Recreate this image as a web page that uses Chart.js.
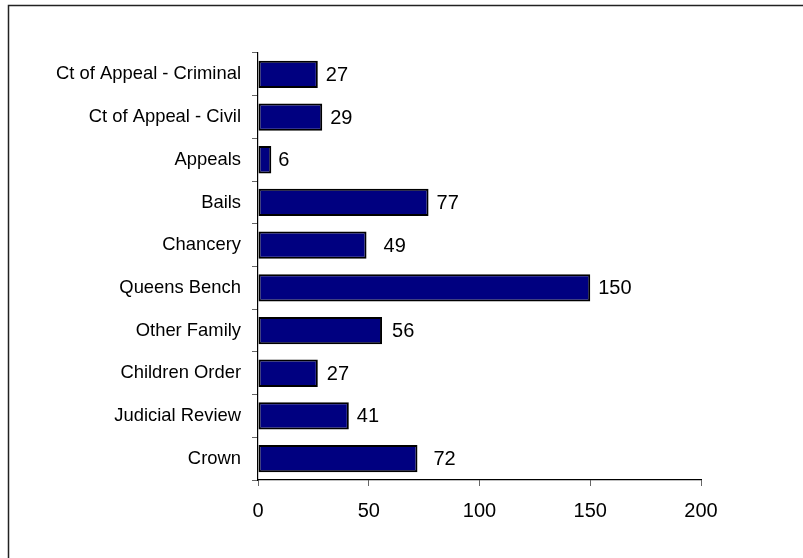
<!DOCTYPE html>
<html>
<head>
<meta charset="utf-8">
<script src="https://cdn.jsdelivr.net/npm/chart.js@4.4.1/dist/chart.umd.min.js"></script>
<style>
  html, body { margin: 0; padding: 0; background: #fff; }
  #wrap { position: relative; width: 803px; height: 558px; }
</style>
</head>
<body>
<div id="wrap"><canvas id="chart-courts"></canvas></div>
<script>
// categories, top to bottom
const courts = [
  'Ct of Appeal - Criminal', 'Ct of Appeal - Civil', 'Appeals', 'Bails', 'Chancery',
  'Queens Bench', 'Other Family', 'Children Order', 'Judicial Review', 'Crown'
];
const caseCounts = [27, 29, 6, 77, 49, 150, 56, 27, 41, 72];
const xTicks = [0, 50, 100, 150, 200];
// gap (px) between bar end and its value label, as placed in the original
const labelGap = [8, 8, 7, 8, 17, 8, 10, 9, 8, 16];

const FONT = "'Liberation Sans', Arial, sans-serif";

// outer frame: only top and left edges show in the picture
const framePlugin = {
  id: 'frame',
  afterDraw(chart) {
    const c = chart.ctx;
    c.save();
    c.strokeStyle = '#222';
    c.lineWidth = 1.5;
    c.beginPath();
    c.moveTo(8.5, 558);
    c.lineTo(8.5, 5.5);
    c.lineTo(803, 5.5);
    c.stroke();
    c.restore();
  }
};

// value labels to the right of each bar
const valueLabels = {
  id: 'valueLabels',
  afterDatasetsDraw(chart) {
    const c = chart.ctx;
    const meta = chart.getDatasetMeta(0);
    c.save();
    c.font = '20px ' + FONT;
    c.fillStyle = '#000';
    c.textAlign = 'left';
    c.textBaseline = 'middle';
    meta.data.forEach((bar, i) => {
      c.fillText(String(caseCounts[i]), bar.x + labelGap[i], bar.y + 1);
    });
    c.restore();
  }
};

const ctx = document.getElementById('chart-courts');
new Chart(ctx, {
  type: 'bar',
  data: {
    labels: courts,
    datasets: [{
      data: caseCounts,
      backgroundColor: '#000080',
      borderColor: '#000',
      borderWidth: 2,
      borderSkipped: false,
      categoryPercentage: 1,
      barPercentage: 0.64
    }]
  },
  options: {
    indexAxis: 'y',
    responsive: true,
    maintainAspectRatio: false,
    animation: false,
    events: [],
    layout: { padding: { top: 53, right: 102, bottom: 0, left: 0 } },
    plugins: {
      legend: { display: false },
      tooltip: { enabled: false }
    },
    scales: {
      x: {
        min: 0,
        max: 200,
        afterBuildTicks(scale) { scale.ticks = xTicks.map(v => ({ value: v })); },
        afterFit(scale) { scale.height = 78; },
        grid: { drawOnChartArea: false, color: '#666', tickLength: 6 },
        border: { color: '#000', width: 1.2 },
        ticks: { color: '#000', padding: 13, font: { family: FONT, size: 20 } }
      },
      y: {
        afterFit(scale) { scale.width = 258; },
        grid: { drawOnChartArea: false, color: '#666', tickLength: 6, offset: true },
        border: { color: '#000', width: 1.2 },
        ticks: { color: '#000', padding: 11, font: { family: FONT, size: 18.4 } }
      }
    }
  },
  plugins: [framePlugin, valueLabels]
});
</script>
</body>
</html>
